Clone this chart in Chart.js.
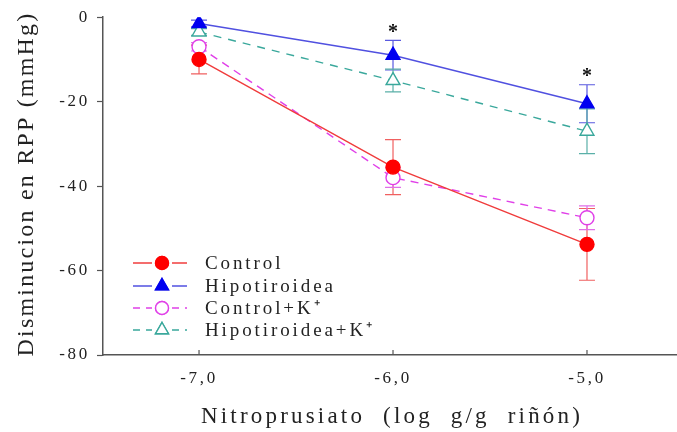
<!DOCTYPE html>
<html lang="es">
<head>
<meta charset="UTF-8">
<title>Nitroprusiato - RPP</title>
<script src="https://cdn.jsdelivr.net/npm/chart.js"></script>
<style>
  body { margin: 0; background: #fff; overflow: hidden; }
  #wrap { width: 677px; height: 432px; position: relative; }
</style>
</head>
<body>
<div id="wrap"><canvas id="rpp"></canvas></div>
<script>
// dose (log g/g riñón)
const doses = [-7, -6, -5];
const yTicks = [0, -20, -40, -60, -80];

// mean fall in RPP (mmHg) and error
const control = [-10, -35.5, -53.8];
const controlErr = [3.4, 6.5, 8.5];
const hipo = [-1.5, -9, -20.5];
const hipoErr = [0.8, 3.5, 4.5];
const controlK = [-7, -38, -47.5];
const controlKErr = [1, 2.3, 2.8];
const hipoK = [-3.5, -15, -27];
const hipoKErr = [0.8, 2.7, 5.3];

// doses with significant difference
const starDoses = [-6, -5];

const xTitle = 'Nitroprusiato  (log  g/g  riñón)';
const yTitle = 'Disminucion en RPP (mmHg)';

const SERIF = '"Liberation Serif", serif';
const TEXT = '#222';

const series = [
  { label: 'Control', values: control, err: controlErr, line: '#f03c3c', mark: '#ff0000', errColor: '#f06060', style: 'circle', fill: true, dash: [] },
  { label: 'Hipotiroidea', values: hipo, err: hipoErr, line: '#5050e0', mark: '#0000f0', errColor: '#5a5ae0', style: 'triangle', fill: true, dash: [] },
  { label: 'Control+K\u207A', values: controlK, err: controlKErr, line: '#e040e8', mark: '#e040e8', errColor: '#e070e8', style: 'circle', fill: false, dash: [8, 6] },
  { label: 'Hipotiroidea+K\u207A', values: hipoK, err: hipoKErr, line: '#3aa89c', mark: '#3aa89c', errColor: '#5ab0a8', style: 'triangle', fill: false, dash: [8, 7] }
];

const datasets = series.map(s => ({
  label: s.label,
  data: doses.map((d, i) => ({ x: d, y: s.values[i] })),
  borderColor: s.line,
  borderWidth: 1.4,
  borderDash: s.dash,
  pointStyle: s.style,
  pointRadius: s.style === 'circle' ? 7 : 8,
  pointBorderWidth: 1.4,
  pointBorderColor: s.mark,
  pointBackgroundColor: s.fill ? s.mark : '#ffffff',
  tension: 0
}));

// wide letter spacing for the tick labels
const spacing = {
  id: 'spacing',
  beforeLayout(chart) { chart.ctx.letterSpacing = '2.7px'; },
  beforeDraw(chart) { chart.ctx.letterSpacing = '2.7px'; }
};

// vertical error bars with caps, under the markers
const errorBars = {
  id: 'errorBars',
  beforeDatasetsDraw(chart) {
    const { ctx, scales: { x, y } } = chart;
    ctx.save();
    ctx.lineWidth = 1.2;
    series.forEach(s => {
      ctx.strokeStyle = s.errColor;
      doses.forEach((d, i) => {
        const px = x.getPixelForValue(d);
        const top = y.getPixelForValue(s.values[i] + s.err[i]);
        const bot = y.getPixelForValue(s.values[i] - s.err[i]);
        ctx.beginPath();
        ctx.moveTo(px, top); ctx.lineTo(px, bot);
        ctx.moveTo(px - 8, top); ctx.lineTo(px + 8, top);
        ctx.moveTo(px - 8, bot); ctx.lineTo(px + 8, bot);
        ctx.stroke();
      });
    });
    ctx.restore();
  }
};

// inner x ticks, axis titles, significance stars and the legend
const extras = {
  id: 'extras',
  afterDraw(chart) {
    const { ctx, scales: { x, y } } = chart;
    ctx.save();
    ctx.strokeStyle = '#555';
    ctx.lineWidth = 1.2;
    doses.forEach(d => {
      const px = x.getPixelForValue(d);
      ctx.beginPath();
      ctx.moveTo(px, y.bottom);
      ctx.lineTo(px, y.bottom - 5);
      ctx.stroke();
    });

    // axis titles
    ctx.fillStyle = TEXT;
    ctx.textBaseline = 'alphabetic';
    ctx.textAlign = 'center';
    ctx.font = '23px ' + SERIF;
    ctx.letterSpacing = '3.2px';
    ctx.fillText(xTitle, 392, 423);

    ctx.save();
    ctx.translate(33, 184);
    ctx.rotate(-Math.PI / 2);
    ctx.font = '24px ' + SERIF;
    ctx.letterSpacing = '2.2px';
    ctx.fillText(yTitle, 0, 0);
    ctx.restore();

    // stars above the Hipotiroidea error bars
    ctx.fillStyle = '#111';
    ctx.font = 'bold 20px ' + SERIF;
    ctx.textBaseline = 'middle';
    ctx.letterSpacing = '0px';
    starDoses.forEach(d => {
      const i = doses.indexOf(d);
      const px = x.getPixelForValue(d);
      const py = y.getPixelForValue(hipo[i] + hipoErr[i]) - 12;
      ctx.fillText('*', px, py + 4);
    });

    // legend
    const lx0 = 133, lx1 = 187, mx = 162, tx = 205;
    const rows = [263, 286, 308, 330];
    series.forEach((s, k) => {
      const ry = rows[k];
      ctx.strokeStyle = s.line;
      ctx.lineWidth = 1.4;
      ctx.setLineDash(s.dash.length ? [7, 6] : []);
      ctx.beginPath();
      ctx.moveTo(lx0, ry); ctx.lineTo(lx1, ry);
      ctx.stroke();
      ctx.setLineDash([]);
      ctx.fillStyle = '#ffffff';
      ctx.fillRect(mx - 10, ry - 9, 20, 18);
      Chart.helpers.drawPoint(ctx, {
        pointStyle: s.style,
        radius: s.style === 'circle' ? 6.5 : 7.5,
        borderWidth: 1.4
      }, mx, ry);
      ctx.fillStyle = s.fill ? s.mark : '#ffffff';
      ctx.strokeStyle = s.mark;
      ctx.fill();
      ctx.stroke();

      ctx.fillStyle = TEXT;
      ctx.font = '19px ' + SERIF;
      ctx.textAlign = 'left';
      ctx.textBaseline = 'middle';
      ctx.letterSpacing = '2.9px';
      ctx.fillText(s.label, tx, ry + 1);
    });
    ctx.restore();
  }
};

new Chart(document.getElementById('rpp'), {
  type: 'line',
  data: { datasets },
  plugins: [spacing, errorBars, extras],
  options: {
    responsive: true,
    maintainAspectRatio: false,
    animation: false,
    layout: { autoPadding: false, padding: { top: 15, right: 0, left: 0, bottom: 0 } },
    plugins: { legend: { display: false }, tooltip: { enabled: false } },
    scales: {
      x: {
        type: 'linear',
        min: -7.495,
        max: -4.536,
        afterBuildTicks: s => { s.ticks = doses.map(v => ({ value: v })); },
        afterFit: s => { s.height = 77; s.paddingLeft = 0; s.paddingRight = 0; },
        ticks: {
          color: TEXT,
          font: { family: SERIF, size: 17 },
          padding: 13,
          callback: v => v.toFixed(1).replace('.', ',')
        },
        grid: { drawOnChartArea: false, drawTicks: false },
        border: { color: '#555', width: 1.5 }
      },
      y: {
        min: -80,
        max: 0,
        afterBuildTicks: s => { s.ticks = yTicks.map(v => ({ value: v })); },
        afterFit: s => { s.width = 103; },
        ticks: {
          color: TEXT,
          font: { family: SERIF, size: 17 },
          padding: 7
        },
        grid: { drawOnChartArea: false, tickLength: 6, color: '#555', tickWidth: 1.2 },
        border: { color: '#555', width: 1.5 }
      }
    }
  }
});
</script>
</body>
</html>
